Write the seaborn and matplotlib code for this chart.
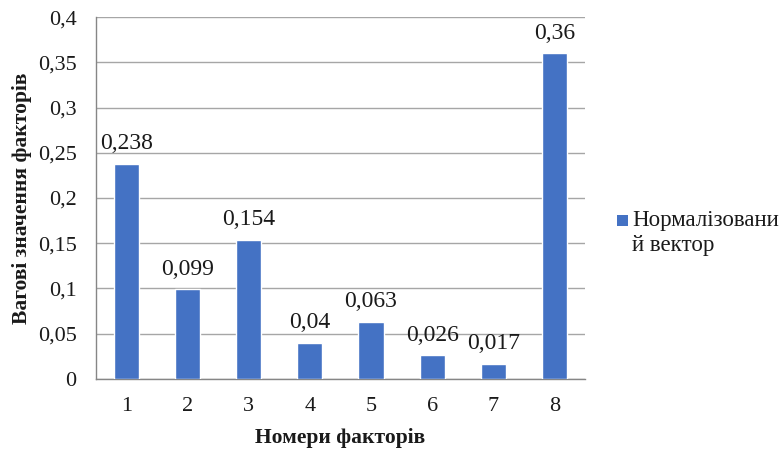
import matplotlib
matplotlib.use("Agg")
import matplotlib.pyplot as plt
import matplotlib.ticker as mticker
from matplotlib.patches import Rectangle
from matplotlib import font_manager as fm
import numpy as np
import pandas as pd
import seaborn as sns

# Factor numbers and their normalized weights
factors = ["1", "2", "3", "4", "5", "6", "7", "8"]
weights = [0.238, 0.099, 0.154, 0.04, 0.063, 0.026, 0.017, 0.36]
series_lines = ["Нормалізовани", "й вектор"]
x_title = "Номери факторів"
y_title = "Вагові значення факторів"

sns.set_theme(style="white")
serif = "Liberation Serif"
plt.rcParams["font.family"] = serif

# Regular serif face taken straight from the font list, by file
regular_path = None
for entry in fm.fontManager.ttflist:
    if entry.name == serif and entry.style == "normal" and entry.weight in (400, "normal", "regular"):
        regular_path = entry.fname
        break
if regular_path:
    key_font = fm.FontProperties(fname=regular_path, size=16.5)
else:
    key_font = fm.FontProperties(family=serif, size=16.5)

bar_color = "#4472C4"
grid_color = "#A6A6A6"
axis_color = "#868686"
text_color = "#1a1a1a"
fs = 16

df = pd.DataFrame({"factor": factors, "weight": weights})

fig = plt.figure(figsize=(7.81, 4.5), dpi=100)
ax = fig.add_axes([0.1229, 0.158, 0.626, 0.804])

sns.barplot(data=df, x="factor", y="weight", color=bar_color, width=0.41,
            saturation=1, ax=ax, zorder=3)

ax.set_ylim(0, 0.4)
ax.set_xlim(-0.5, len(factors) - 0.5)
ax.yaxis.set_major_locator(mticker.MultipleLocator(0.05))
ax.yaxis.set_major_formatter(
    mticker.FuncFormatter(lambda v, _: f"{round(v, 3):g}".replace(".", ",")))
ax.grid(axis="y", color=grid_color, linewidth=1, zorder=0)
ax.set_axisbelow(True)

for side in ("top", "right"):
    ax.spines[side].set_visible(False)
ax.spines["left"].set_color(axis_color)
ax.spines["bottom"].set_color(axis_color)
ax.spines["left"].set_linewidth(1)
ax.spines["bottom"].set_linewidth(1)

# Category separators as tick marks below the axis
ax.set_xticks(np.arange(-0.5, len(factors)), minor=True)
ax.tick_params(axis="x", which="minor", length=6, color=axis_color, width=1,
               direction="out")
ax.tick_params(axis="x", which="major", length=0, pad=13, labelsize=fs,
               labelcolor=text_color)
ax.tick_params(axis="y", length=0, pad=14, labelsize=fs, labelcolor=text_color)

# Value labels above each bar
for i, v in enumerate(weights):
    ax.annotate(str(v).replace(".", ","), xy=(i, v), xytext=(0, 7),
                textcoords="offset points", ha="center", va="bottom",
                fontsize=17, color=text_color, family=serif)

ax.set_xlabel(x_title, fontsize=15.5, fontweight="bold", color=text_color,
              labelpad=9, family=serif)
ax.set_ylabel(y_title, fontsize=15.5, fontweight="bold", color=text_color,
              labelpad=4, family=serif)

# Series key on the right
fig.patches.append(Rectangle((617 / 781, 1 - 226 / 450), 11 / 781, 11 / 450,
                             transform=fig.transFigure, facecolor=bar_color,
                             edgecolor="none"))
for k, line in enumerate(series_lines):
    fig.text(632 / 781, 1 - (220 + 26 * k) / 450, line, ha="left",
             va="center", color=text_color, fontproperties=key_font)

fig.savefig("out.png", dpi=100)
